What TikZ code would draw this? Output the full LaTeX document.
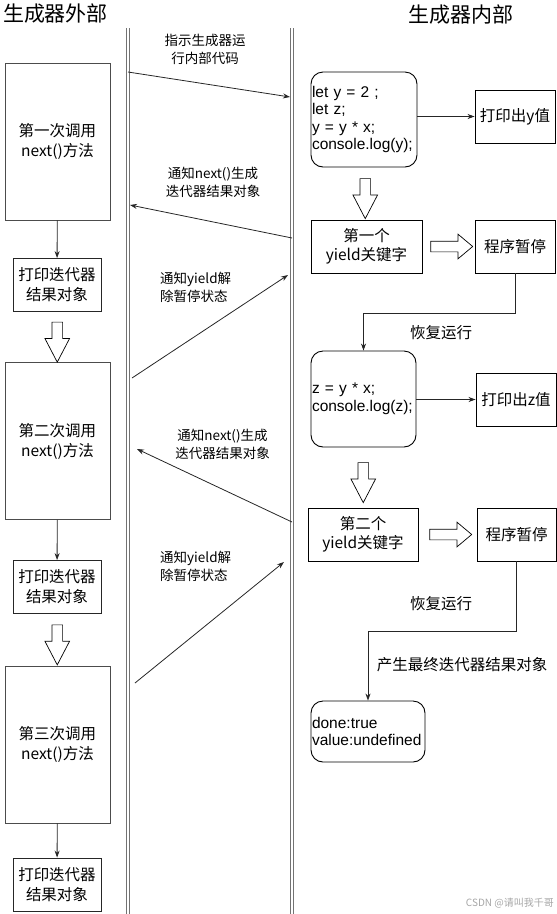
\documentclass[tikz,border=0pt]{standalone}
\usepackage{fontspec}
\setmainfont{Noto Sans CJK SC}
\newfontfamily\codefont{Liberation Sans}
\usetikzlibrary{arrows.meta,positioning,calc,shapes.arrows}

\begin{document}
\begin{tikzpicture}[
    x=1pt, y=-1pt,
    >={Stealth[length=7pt,width=5pt]},
    every node/.style={inner sep=0pt, font=\fontsize{15.5}{20}\selectfont},
    callbox/.style={draw=black!70, line width=0.9pt, minimum width=105pt, minimum height=157pt, align=center},
    printbox/.style={draw=black!85, line width=0.9pt, minimum width=88pt, minimum height=53pt, align=center},
    plainbox/.style={draw, line width=0.9pt, minimum height=53pt, align=center, font=\fontsize{15.5}{19}\selectfont},
    codebox/.style={draw, line width=0.9pt, rounded corners=12pt, align=left, inner xsep=1pt,
        font=\codefont\fontsize{15.5}{17.5}\selectfont},
    lane/.style={draw=black!55, line width=0.9pt, double=white, double distance=2.4pt},
    link/.style={draw=black!85, line width=0.8pt, ->},
    msglabel/.style={font=\fontsize{13.5}{18}\selectfont, align=center},
    hollow/.style={draw, line width=0.7pt, fill=white, single arrow, single arrow head extend=7pt,
        inner sep=0pt, inner ysep=5pt},
    hollowdown/.style={hollow, single arrow tip angle=55, minimum height=40pt, rotate=-90},
    hollowright/.style={hollow, single arrow tip angle=80, minimum height=42pt},
    title/.style={font=\fontsize{21}{24}\selectfont}
]
    \useasboundingbox (0,0) rectangle (557,914);

    \node[title] (outside) at (55.5,14) {生成器外部};
    \node[title] (inside) at (461,15) {生成器内部};

    % the two lanes
    \coordinate (lanea) at (128,28);
    \coordinate (laneaend) at (128,916);
    \coordinate (laneb) at (292,28);
    \coordinate (lanebend) at (292,916);
    \draw[lane] (lanea) -- (laneaend);
    \draw[lane] (laneb) -- (lanebend);

    % outside the generator
    \node[callbox] (call1) at (57.5,141.5) {第一次调用\\next()方法};
    \node[printbox] (print1) at (57,285) {打印迭代器\\结果对象};
    \node[callbox] (call2) at (57.5,441) {第二次调用\\next()方法};
    \node[printbox] (print2) at (57,587) {打印迭代器\\结果对象};
    \node[callbox] (call3) at (57.5,744.5) {第三次调用\\next()方法};
    \node[printbox] (print3) at (57,884.5) {打印迭代器\\结果对象};

    \draw[link] (call1) -- (print1);
    \draw[link] (call2) -- (print2);
    \draw[link] (call3) -- (print3);

    \node[hollowdown] (down1) at ($(print1.south)!0.5!(call2.north)$) {};
    \node[hollowdown] (down2) at ($(print2.south)!0.5!(call3.north)$) {};

    % inside the generator
    \node[codebox, text width=104pt, minimum height=95pt] (code1) at (364,119.5)
        {let y = 2 ;\\let z;\\y = y * x;\\console.log(y);};
    \node[plainbox, minimum width=80pt] (outy) at (515,116.5) {打印出y值};
    \node[plainbox, minimum width=111pt] (yield1) at (366.5,246.5) {第一个\\yield关键字};
    \node[plainbox, minimum width=80pt] (pause1) at (515,246.5) {程序暂停};
    \node[codebox, text width=103pt, minimum height=96pt] (code2) at (363.5,399)
        {z = y * x;\\console.log(z);};
    \node[plainbox, minimum width=80pt] (outz) at (516,399.5) {打印出z值};
    \node[plainbox, minimum width=110pt] (yield2) at (363,534.5) {第二个\\yield关键字};
    \node[plainbox, minimum width=79pt] (pause2) at (516.5,534.5) {程序暂停};
    \node[codebox, text width=112pt, minimum height=61pt] (done) at (368,731.5)
        {done:true\\value:undefined};

    \draw[link] (code1.east |- outy.west) -- (outy.west);
    \draw[link] (code2.east |- outz.west) -- (outz.west);
    \draw[link] (pause1.south) -- ++(0,40) -| (code2.north);
    \draw[link] (pause2.south) -- ++(0,70) -| (done.north);

    \node (resume1) at (441,333) {恢复运行};
    \node (resume2) at (441,604) {恢复运行};
    \node (final) at (462,665) {产生最终迭代器结果对象};

    \node[hollowdown] (down3) at ($(code1.south)!0.5!(yield1.north)$) {};
    \node[hollowdown] (down4) at ($(code2.south)!0.5!(yield2.north)$) {};
    \node[hollowright] (right1) at ($(yield1.east)!0.5!(pause1.west)$) {};
    \node[hollowright] (right2) at ($(yield2.east)!0.5!(pause2.west)$) {};

    % messages between the lanes
    \coordinate (run1) at (128,72);
    \coordinate (run2) at (290,97);
    \coordinate (back1) at (292,238);
    \coordinate (back2) at (130,205);
    \coordinate (wake1) at (132,378);
    \coordinate (wake2) at (288,275);
    \coordinate (back3) at (292,522);
    \coordinate (back4) at (137,449);
    \coordinate (wake3) at (135,683);
    \coordinate (wake4) at (284,562);

    \draw[link] (run1) -- (run2);
    \draw[link] (back1) -- (back2);
    \draw[link] (wake1) -- (wake2);
    \draw[link] (back3) -- (back4);
    \draw[link] (wake3) -- (wake4);

    \node[msglabel] (runtext) at (205,49) {指示生成器运\\行内部代码};
    \node[msglabel] (backtext1) at (213,182.5) {通知next()生成\\迭代器结果对象};
    \node[msglabel, align=left, anchor=west] (waketext1) at (160,287) {通知yield解\\除暂停状态};
    \node[msglabel] (backtext2) at (222.5,444) {通知next()生成\\迭代器结果对象};
    \node[msglabel, align=left, anchor=west] (waketext2) at (160,566) {通知yield解\\除暂停状态};

    \node[font=\fontsize{10}{12}\selectfont, text=black!35, anchor=east] (mark) at (554,903) {CSDN @请叫我千哥};
\end{tikzpicture}
\end{document}
